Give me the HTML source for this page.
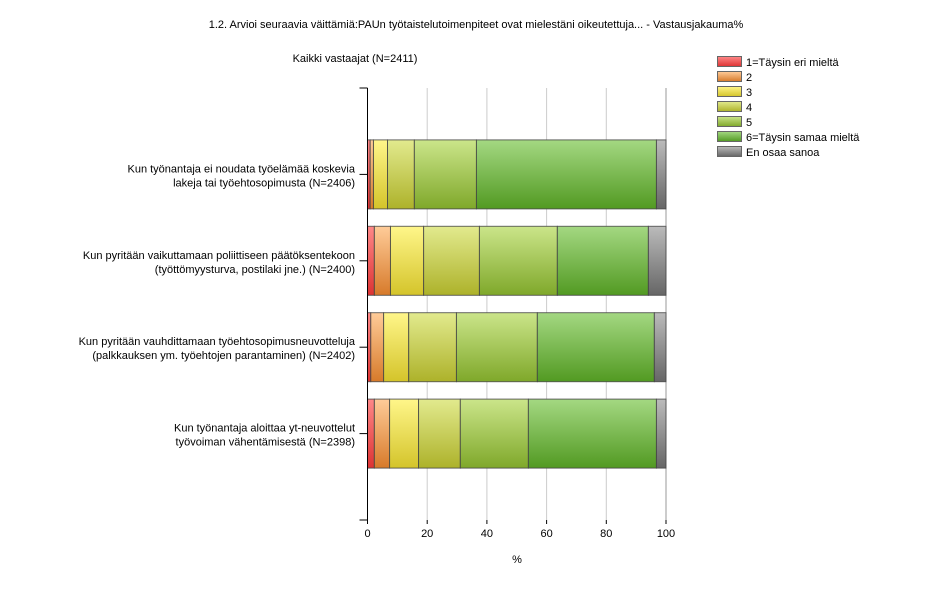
<!DOCTYPE html>
<html><head><meta charset="utf-8"><style>
body{margin:0;background:#fff;width:926px;height:591px;overflow:hidden;font-family:"Liberation Sans",Verdana,sans-serif}
svg text{font-family:"Liberation Sans",Verdana,sans-serif;font-size:11px;fill:#000}
</style></head><body>
<svg id="c" width="926" height="591">
<defs>
<linearGradient id="g0" x1="0" y1="0" x2="0" y2="1"><stop offset="0" stop-color="#f88"/><stop offset="1" stop-color="#d33"/></linearGradient>
<linearGradient id="g1" x1="0" y1="0" x2="0" y2="1"><stop offset="0" stop-color="#fc9"/><stop offset="1" stop-color="#d77a2a"/></linearGradient>
<linearGradient id="g2" x1="0" y1="0" x2="0" y2="1"><stop offset="0" stop-color="#fff68a"/><stop offset="1" stop-color="#d4c42a"/></linearGradient>
<linearGradient id="g3" x1="0" y1="0" x2="0" y2="1"><stop offset="0" stop-color="#e2ea8e"/><stop offset="1" stop-color="#adb22a"/></linearGradient>
<linearGradient id="g4" x1="0" y1="0" x2="0" y2="1"><stop offset="0" stop-color="#cbe58a"/><stop offset="1" stop-color="#7fa82a"/></linearGradient>
<linearGradient id="g5" x1="0" y1="0" x2="0" y2="1"><stop offset="0" stop-color="#a4d882"/><stop offset="1" stop-color="#529a22"/></linearGradient>
<linearGradient id="g6" x1="0" y1="0" x2="0" y2="1"><stop offset="0" stop-color="#bbb"/><stop offset="1" stop-color="#666"/></linearGradient>
</defs>
<text x="476" y="28" text-anchor="middle">1.2. Arvioi seuraavia väittämiä:PAUn työtaistelutoimenpiteet ovat mielestäni oikeutettuja... - Vastausjakauma%</text>
<text x="355" y="62" text-anchor="middle">Kaikki vastaajat (N=2411)</text>
<g id="grid"></g><g id="bars"></g><g id="axes"></g><g id="legend"></g>
<text x="517" y="563" text-anchor="middle">%</text>
</svg>
<script>
const categories=[["Kun työnantaja ei noudata työelämää koskevia","lakeja tai työehtosopimusta (N=2406)"],["Kun pyritään vaikuttamaan poliittiseen päätöksentekoon","(työttömyysturva, postilaki jne.) (N=2400)"],["Kun pyritään vauhdittamaan työehtosopimusneuvotteluja","(palkkauksen ym. työehtojen parantaminen) (N=2402)"],["Kun työnantaja aloittaa yt-neuvottelut","työvoiman vähentämisestä (N=2398)"]];
const seriesNames=["1=Täysin eri mieltä","2","3","4","5","6=Täysin samaa mieltä","En osaa sanoa"];
const s1=[0.9,2.3,1.1,2.3];
const s2=[1.1,5.4,4.3,5.1];
const s3=[4.7,11.1,8.4,9.7];
const s4=[9.0,18.7,16.0,14.0];
const s5=[20.8,26.1,27.1,22.8];
const s6=[60.3,30.5,39.2,42.9];
const s7=[3.2,5.9,3.9,3.2];
const series=[s1,s2,s3,s4,s5,s6,s7];
const xTicks=[0,20,40,60,80,100];
const NS="http://www.w3.org/2000/svg";
const X0=367.5,X1=666,Y0=88,Y1=520;
const x=v=>X0+(X1-X0)*v/100;
const bandH=(Y1-Y0)/(categories.length+1);
const yc=i=>Y0+bandH*(i+1);
function mk(t,a,p){const e=document.createElementNS(NS,t);for(const k in a)e.setAttribute(k,a[k]);p.appendChild(e);return e;}
const grid=document.getElementById('grid'),bars=document.getElementById('bars'),axes=document.getElementById('axes'),leg=document.getElementById('legend');
xTicks.forEach(t=>{
 if(t>0){const l=mk('line',{x1:x(t),x2:x(t),y1:Y0,y2:Y1,stroke:t==100?'#999':'#ccc','stroke-width':1},grid);
 
 }
 const tk=mk('line',{x1:x(t),x2:x(t),y1:Y1,y2:Y1+4,stroke:'#000'},axes);
 
 
 const tx=mk('text',{x:x(t),y:Y1+17,'text-anchor':'middle'},axes);tx.textContent=t;
 
 
});
const bh=69;
categories.forEach((c,i)=>{
 let acc=0;const yt=yc(i)-bh/2;
 series.forEach((s,j)=>{
  const r=mk('rect',{x:x(acc),y:yt,width:x(acc+s[i])-x(acc),height:bh,fill:'url(#g'+j+')',stroke:'#444','stroke-width':1,'stroke-opacity':0.8},bars);
  
  
  acc+=s[i];
 });
 const tk=mk('line',{x1:X0-8,x2:X0,y1:yc(i),y2:yc(i),stroke:'#000'},axes);
 
 
 c.forEach((ln,k)=>{const t=mk('text',{x:355,y:yc(i)-2+k*14,'text-anchor':'end'},axes);t.textContent=ln;
 
 });
});
[[X0-8,Y0,X0,Y0],[X0-8,Y1,X0,Y1],[X0,Y0,X0,Y1+4]].forEach(a=>{const l=mk('line',{x1:a[0],y1:a[1],x2:a[2],y2:a[3],stroke:'#000'},axes);
 
 });
seriesNames.forEach((n,j)=>{
 const y=56+j*15;
 const r=mk('rect',{x:717.5,y:y+0.5,width:24,height:10,fill:'url(#g'+j+')',stroke:'#666'},leg);
 
 
 const t=mk('text',{x:746,y:y+10},leg);t.textContent=n;
 
 
});
</script>
</body></html>
